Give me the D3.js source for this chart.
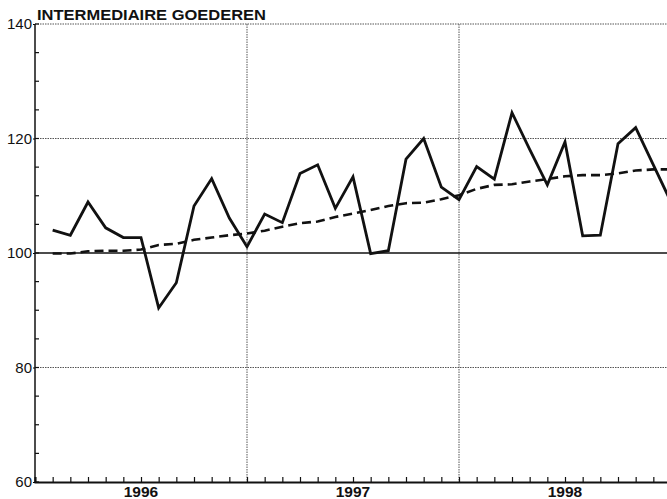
<!DOCTYPE html>
<html>
<head>
<meta charset="utf-8">
<script src="https://cdn.jsdelivr.net/npm/d3@7"></script>
<style>
  html, body { margin: 0; padding: 0; background: #fff; }
  svg { display: block; overflow: hidden; }
</style>
</head>
<body>
<div id="chart"></div>
<script>
/* CONSTANTS AND GLOBALS */
const width = 667,
  height = 499,
  margin = { top: 24, bottom: 17, left: 35, right: -4 };

// month index 0 = jan 1996, 36 = jan 1999
const monthIdx = d3.range(1, 37);
const indexValues = [
  104.0, 103.1, 108.9, 104.4, 102.7, 102.7, 90.4, 94.8, 108.2, 113.0, 106.1, 101.1,
  106.8, 105.3, 113.9, 115.4, 107.8, 113.3, 99.9, 100.4, 116.4, 120.0, 111.5, 109.3,
  115.1, 112.9, 124.5, 118.1, 111.9, 119.4, 103.0, 103.1, 119.1, 121.9, 115.4, 108.9
];
const trendValues = [
  99.9, 99.9, 100.3, 100.4, 100.4, 100.6, 101.4, 101.6, 102.3, 102.7, 103.1, 103.4,
  103.9, 104.6, 105.2, 105.5, 106.3, 106.9, 107.5, 108.2, 108.7, 108.8, 109.4, 110.1,
  111.2, 111.9, 112.0, 112.5, 112.9, 113.4, 113.6, 113.6, 113.9, 114.4, 114.6, 114.6
];
const yearLabels = ["1996", "1997", "1998"];
const yTicks = [60, 80, 100, 120, 140];
const title = "INTERMEDIAIRE GOEDEREN";

/* SCALES */
const xScale = d3.scaleLinear()
  .domain([0, 36])
  .range([margin.left, width - margin.right]);

const yScale = d3.scaleLinear()
  .domain([60, 140])
  .range([height - margin.bottom, margin.top]);

const svg = d3.select("#chart")
  .append("svg")
  .attr("width", width)
  .attr("height", height);

const x0 = xScale(0), x1 = xScale(36);

// dotted gridlines (horizontal)
svg.append("g")
  .selectAll("line")
  .data([80, 120, 140])
  .join("line")
  .attr("x1", x0).attr("x2", x1)
  .attr("y1", d => yScale(d)).attr("y2", d => yScale(d))
  .attr("stroke", "#555")
  .attr("stroke-width", 1)
  .attr("stroke-dasharray", "1.5,1");

// vertical year gridlines
svg.append("g")
  .selectAll("line")
  .data([12, 24, 36])
  .join("line")
  .attr("x1", d => xScale(d)).attr("x2", d => xScale(d))
  .attr("y1", yScale(140)).attr("y2", yScale(60))
  .attr("stroke", "#555")
  .attr("stroke-width", 1)
  .attr("stroke-dasharray", "1.5,1");

// 100 baseline
svg.append("line")
  .attr("x1", x0).attr("x2", x1)
  .attr("y1", yScale(100)).attr("y2", yScale(100))
  .attr("stroke", "#111")
  .attr("stroke-width", 1.6);

// + AXES
const yAxis = d3.axisLeft(yScale)
  .tickValues(yTicks)
  .tickSize(2)
  .tickPadding(1);

const yAxisGroup = svg.append("g")
  .attr("transform", `translate(${x0},0)`)
  .call(yAxis);
yAxisGroup.select(".domain").remove();
yAxisGroup.selectAll("text")
  .style("font", "15px 'Liberation Sans', Arial, sans-serif")
  .attr("fill", "#111");

// minor y ticks on the inside
svg.append("g")
  .selectAll("line")
  .data(d3.range(60, 141, 5))
  .join("line")
  .attr("x1", x0).attr("x2", x0 + 4)
  .attr("y1", d => yScale(d)).attr("y2", d => yScale(d))
  .attr("stroke", "#111")
  .attr("stroke-width", 1.2);

svg.append("line")
  .attr("x1", x0).attr("x2", x0)
  .attr("y1", yScale(140)).attr("y2", yScale(60))
  .attr("stroke", "#111")
  .attr("stroke-width", 1.5);

// x axis: month ticks pointing up
const xAxis = d3.axisBottom(xScale)
  .tickValues(d3.range(0, 37))
  .tickSize(-5)
  .tickFormat("");

const xAxisGroup = svg.append("g")
  .attr("transform", `translate(0,${yScale(60)})`)
  .call(xAxis);
xAxisGroup.select(".domain")
  .attr("stroke", "#111")
  .attr("stroke-width", 2);
xAxisGroup.selectAll(".tick line")
  .attr("stroke", "#111")
  .attr("stroke-width", 1.2);

svg.append("g")
  .selectAll("text")
  .data(yearLabels)
  .join("text")
  .attr("x", (d, i) => xScale(i * 12 + 6))
  .attr("y", yScale(60) + 15)
  .attr("text-anchor", "middle")
  .style("font", "bold 15.5px 'Liberation Sans', Arial, sans-serif")
  .attr("fill", "#111")
  .text(d => d);

// title
svg.append("text")
  .attr("x", x0 + 2)
  .attr("y", 20)
  .attr("textLength", 229)
  .attr("lengthAdjust", "spacingAndGlyphs")
  .style("font", "bold 14.5px 'Liberation Sans', Arial, sans-serif")
  .attr("fill", "#111")
  .text(title);

/* LINES */
const lineFunction = d3.line()
  .x(d => xScale(d[0]))
  .y(d => yScale(d[1]));

svg.append("path")
  .datum(monthIdx.map((m, i) => [m, trendValues[i]]))
  .attr("fill", "none")
  .attr("stroke", "#111")
  .attr("stroke-width", 2.6)
  .attr("stroke-dasharray", "9,5")
  .attr("d", lineFunction);

svg.append("path")
  .datum(monthIdx.map((m, i) => [m, indexValues[i]]))
  .attr("fill", "none")
  .attr("stroke", "#111")
  .attr("stroke-width", 2.8)
  .attr("stroke-linejoin", "miter")
  .attr("d", lineFunction);
</script>
</body>
</html>
